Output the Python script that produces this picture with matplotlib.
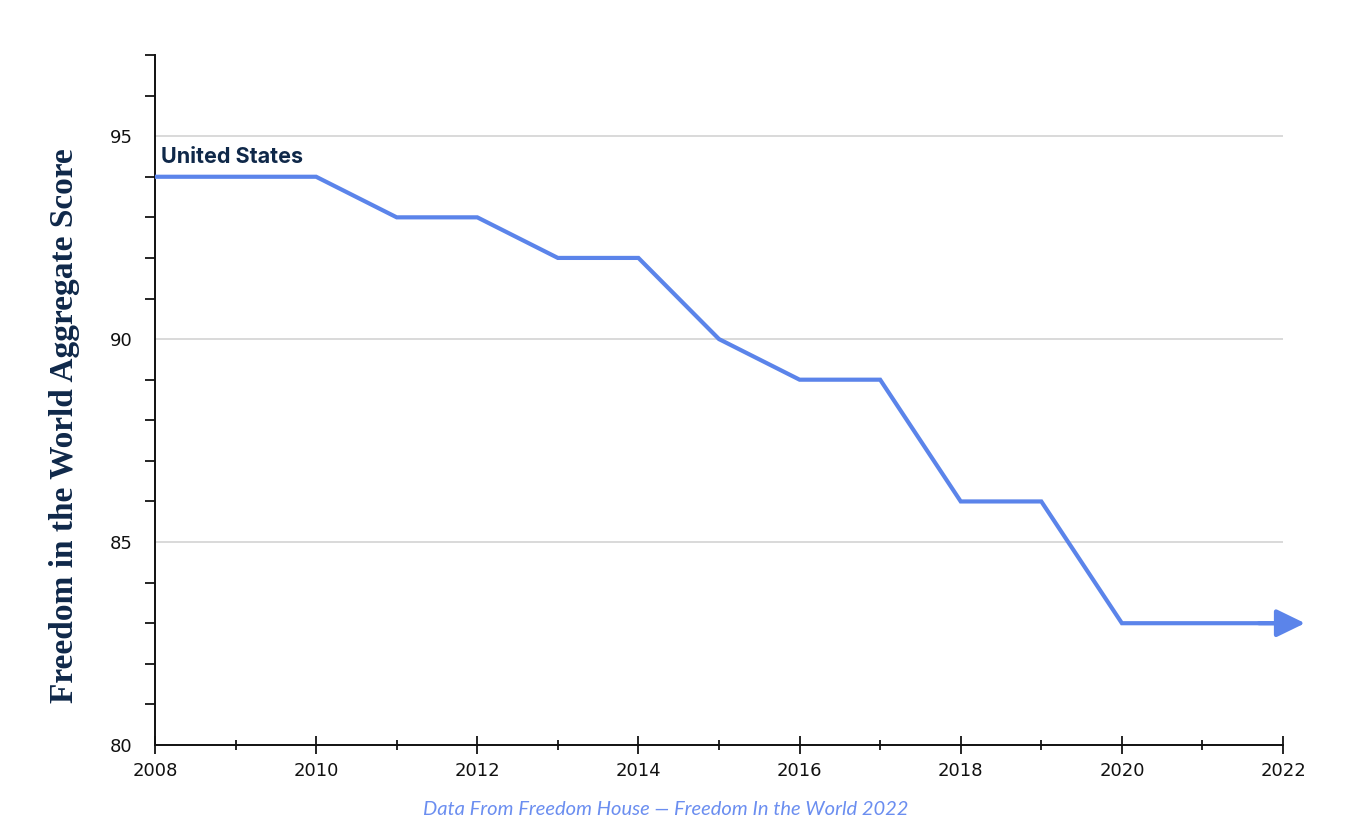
import matplotlib
matplotlib.use('Agg')
import matplotlib.pyplot as plt
from matplotlib.ticker import MultipleLocator
from matplotlib.transforms import offset_copy

years = [2008, 2009, 2010, 2011, 2012, 2013, 2014, 2015, 2016, 2017, 2018, 2019, 2020, 2021, 2022]
scores = [94, 94, 94, 93, 93, 92, 92, 90, 89, 89, 86, 86, 83, 83, 83]
country = 'United States'
ylabel = 'Freedom in the World Aggregate Score'
caption = 'Data From Freedom House \u2014 Freedom In the World 2022'

line_col = '#5b84ea'
navy = '#0f2849'

fig = plt.figure(figsize=(13.5, 8.32), dpi=100)
ax = fig.add_axes([0.1148, 0.1046, 0.8356, 0.8293])

ax.plot(years, scores, color=line_col, lw=3, solid_joinstyle='miter', zorder=3)
# arrow head at the end of the line
tip = offset_copy(ax.transData, fig=fig, x=22, y=0, units='dots')
ax.annotate('', xy=(years[-1], scores[-1]), xycoords=tip,
            xytext=(years[-1] - 0.3, scores[-1]), textcoords='data',
            arrowprops=dict(arrowstyle='-|>,head_length=1.75,head_width=0.85',
                            mutation_scale=10, color=line_col, lw=3,
                            shrinkA=0, shrinkB=0), annotation_clip=False, zorder=4)

ax.annotate(country, xy=(years[0], scores[0]), xytext=(4, 7), textcoords='offset points',
            fontsize=15.5, fontweight='bold', family='Inter', color=navy, va='bottom', ha='left')

ax.set_xlim(2008, 2022)
ax.set_ylim(80, 97)

ax.xaxis.set_major_locator(MultipleLocator(2))
ax.xaxis.set_minor_locator(MultipleLocator(1))
ax.yaxis.set_major_locator(MultipleLocator(5))
ax.yaxis.set_minor_locator(MultipleLocator(1))

ax.tick_params(axis='x', which='major', direction='inout', length=13, width=1.2, labelsize=13, pad=6)
ax.tick_params(axis='x', which='minor', direction='inout', length=7, width=1.2)
ax.tick_params(axis='y', which='major', length=0, labelsize=13, pad=16)
ax.tick_params(axis='y', which='minor', direction='out', length=7, width=1.2)

for lab in ax.get_xticklabels() + ax.get_yticklabels():
    lab.set_color('#111111')

ax.grid(axis='y', which='major', color='#d3d3d3', lw=1.2)
ax.set_axisbelow(True)

for s in ['top', 'right']:
    ax.spines[s].set_visible(False)
for s in ['left', 'bottom']:
    ax.spines[s].set_linewidth(1.4)
    ax.spines[s].set_color('#111111')

fig.text(0.048, 0.489, ylabel, rotation=90, ha='center', va='center',
         fontsize=24, fontweight='bold', family='Liberation Serif', color=navy)

fig.text(0.493, 0.027, caption, ha='center', va='center', fontsize=14.5,
         style='italic', family='Lato', color='#6b8ef0')

fig.savefig('out.png', dpi=100)
